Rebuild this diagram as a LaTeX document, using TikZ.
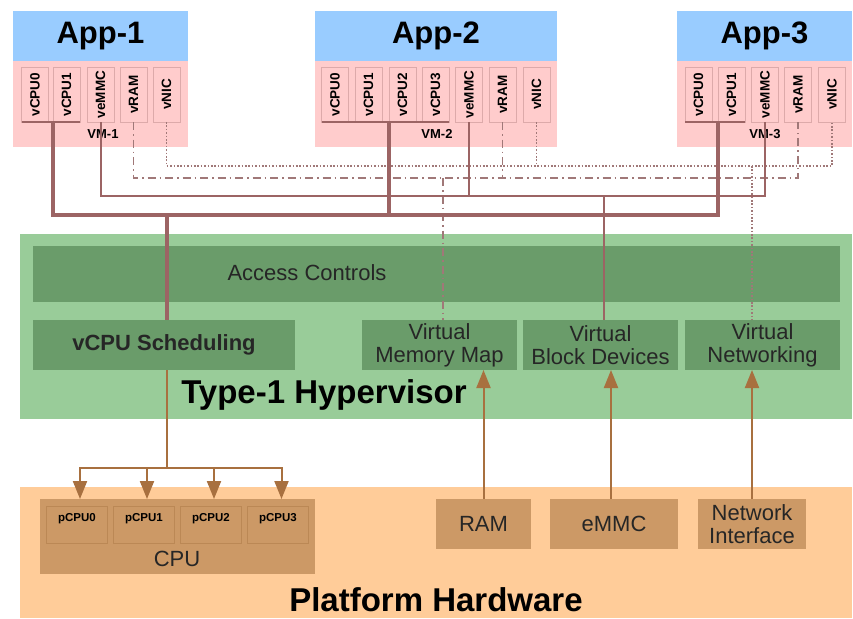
\documentclass[tikz,border=0pt]{standalone}
\usepackage{fontspec}
\setmainfont{Liberation Sans}
\usetikzlibrary{arrows.meta,calc}
\definecolor{appblue}{HTML}{99CCFF}
\definecolor{vmpink}{HTML}{FFCCCC}
\definecolor{vmedge}{HTML}{DDAAAA}
\definecolor{hypgreen}{HTML}{99CC99}
\definecolor{dkgreen}{HTML}{6A9C6A}
\definecolor{peach}{HTML}{FFCC99}
\definecolor{brownbox}{HTML}{CC9966}
\definecolor{brownedge}{HTML}{BB8855}
\definecolor{arrc}{HTML}{A8703F}
\definecolor{busc}{HTML}{9C6464}
\definecolor{busc2}{HTML}{A07878}
\begin{document}
\begin{tikzpicture}[x=1pt,y=-1pt,
  box/.style={rectangle, inner sep=0pt, outer sep=0pt},
  appbox/.style={box, fill=appblue, minimum height=50pt, font=\fontsize{31}{31}\selectfont\bfseries},
  vmbox/.style={box, fill=vmpink, minimum height=86pt},
  vres/.style={box, fill=vmpink, draw=vmedge, line width=0.6pt, minimum width=27pt, minimum height=55pt, font=\fontsize{13.5}{13.5}\selectfont\bfseries},
  vmlabel/.style={font=\fontsize{13}{13}\selectfont\bfseries},
  hvbox/.style={box, fill=dkgreen, minimum height=50pt, align=center, font=\fontsize{22}{23}\selectfont, text=black!85},
  hwbox/.style={box, fill=brownbox, minimum height=50pt, align=center, font=\fontsize{22}{23}\selectfont, text=black!85},
  pcpu/.style={box, fill=brownbox, draw=brownedge, line width=0.6pt, minimum width=61pt, minimum height=37pt},
  pcpulabel/.style={font=\fontsize{11.5}{11.5}\selectfont\bfseries},
  bigtitle/.style={font=\fontsize{33}{33}\selectfont\bfseries},
  cpubus/.style={draw=busc, line width=4pt},
  mmcbus/.style={draw=busc, line width=2pt},
  rambus/.style={draw=busc2, line width=1.5pt, dash pattern=on 8pt off 4pt on 1.5pt off 4pt},
  nicbus/.style={draw=busc2, line width=1.6pt, dash pattern=on 1.6pt off 1.8pt},
  hwline/.style={draw=arrc, line width=2pt},
  hwarrow/.style={hwline, -{Triangle[length=18pt,width=14pt]}}
]
\fill[white] (0,0) rectangle (853,618);
\useasboundingbox (0,0) rectangle (853,618);

% ---------- Apps / VMs ----------
\node[appbox, minimum width=175pt] (app1) at (100.5,36) {App-1};
\node[vmbox, minimum width=175pt] (vm1) at (100.5,104) {};
\node[appbox, minimum width=242pt] (app2) at (436,36) {App-2};
\node[vmbox, minimum width=242pt] (vm2) at (436,104) {};
\node[appbox, minimum width=175pt] (app3) at (764.5,36) {App-3};
\node[vmbox, minimum width=175pt] (vm3) at (764.5,104) {};

\node[vres] (v1c0) at (35,94.5) {\rotatebox{90}{vCPU0}};
\node[vres] (v1c1) at (66.5,94.5) {\rotatebox{90}{vCPU1}};
\node[vres] (v1m) at (100.5,94.5) {\rotatebox{90}{veMMC}};
\node[vres] (v1r) at (133.5,94.5) {\rotatebox{90}{vRAM}};
\node[vres] (v1n) at (166.5,94.5) {\rotatebox{90}{vNIC}};
\node[vmlabel] (vm1t) at (103,134) {VM-1};

\node[vres] (v2c0) at (335,94.5) {\rotatebox{90}{vCPU0}};
\node[vres] (v2c1) at (368.5,94.5) {\rotatebox{90}{vCPU1}};
\node[vres] (v2c2) at (402.5,94.5) {\rotatebox{90}{vCPU2}};
\node[vres] (v2c3) at (435.5,94.5) {\rotatebox{90}{vCPU3}};
\node[vres] (v2m) at (469,94.5) {\rotatebox{90}{veMMC}};
\node[vres] (v2r) at (502.5,94.5) {\rotatebox{90}{vRAM}};
\node[vres] (v2n) at (536.5,94.5) {\rotatebox{90}{vNIC}};
\node[vmlabel] (vm2t) at (437,134) {VM-2};

\node[vres] (v3c0) at (698.5,94.5) {\rotatebox{90}{vCPU0}};
\node[vres] (v3c1) at (731.5,94.5) {\rotatebox{90}{vCPU1}};
\node[vres] (v3m) at (765,94.5) {\rotatebox{90}{veMMC}};
\node[vres] (v3r) at (798,94.5) {\rotatebox{90}{vRAM}};
\node[vres] (v3n) at (832,94.5) {\rotatebox{90}{vNIC}};
\node[vmlabel] (vm3t) at (765,134) {VM-3};

% ---------- Hypervisor ----------
\node[box, fill=hypgreen, minimum width=832pt, minimum height=185pt] (hyp) at (436,326.5) {};
\node[hvbox, minimum width=807pt, minimum height=56pt] (acc) at (436.5,274) {};
\node[font=\fontsize{22}{22}\selectfont, text=black!85] (acct) at (307,273) {Access Controls};
\node[hvbox, minimum width=262pt, font=\fontsize{22}{22}\selectfont\bfseries] (sched) at (164,345) {vCPU Scheduling};
\node[hvbox, minimum width=155pt] (vmem) at (439.5,345) {Virtual\\Memory Map};
\node[hvbox, minimum width=155pt] (vblk) at (600.5,345) {Virtual\\Block Devices};
\node[hvbox, minimum width=155pt] (vnet) at (762.5,345) {Virtual\\Networking};
\node[bigtitle] (hyptext) at (324,395) {Type-1 Hypervisor};

% ---------- Platform hardware ----------
\node[box, fill=peach, minimum width=832pt, minimum height=131pt] (plat) at (436,552.5) {};
\node[box, fill=brownbox, minimum width=275pt, minimum height=75pt] (cpu) at (177.5,536.5) {};
\node[pcpu] (p0) at (76.5,524.5) {};
\node[pcpu] (p1) at (144,524.5) {};
\node[pcpu] (p2) at (211,524.5) {};
\node[pcpu] (p3) at (278,524.5) {};
\node[pcpulabel] (p0t) at (77,518.5) {pCPU0};
\node[pcpulabel] (p1t) at (144,518.5) {pCPU1};
\node[pcpulabel] (p2t) at (211,518.5) {pCPU2};
\node[pcpulabel] (p3t) at (278,518.5) {pCPU3};
\node[font=\fontsize{22}{22}\selectfont, text=black!85] (cput) at (177,559) {CPU};
\node[hwbox, minimum width=95pt] (ram) at (483.5,524) {RAM};
\node[hwbox, minimum width=128pt] (emmc) at (614,524) {eMMC};
\node[hwbox, minimum width=108pt] (nic) at (752,524) {Network\\Interface};
\node[bigtitle] (plattext) at (436,600) {Platform Hardware};

% ---------- Junctions ----------
\coordinate (cpuJ) at (167,215);
\coordinate (mmcJ) at (604,196);
\coordinate (ramJ) at (443,178);
\coordinate (nicJ) at (752,166);
\coordinate (br) at (167,468);
\coordinate (a0) at ([xshift=3.5pt]p0.north |- cpu.north);
\coordinate (a1) at ([xshift=3pt]p1.north |- cpu.north);
\coordinate (a2) at ([xshift=3pt]p2.north |- cpu.north);
\coordinate (a3) at ([xshift=3.5pt]p3.north |- cpu.north);

% ---------- vNIC (dotted) ----------
\draw[nicbus] (v1n.south) |- (v3n.south |- nicJ) -- (v3n.south);
\draw[nicbus] (v2n.south) -- (v2n.south |- nicJ);
\draw[nicbus] (nicJ) -- (vnet.north -| nicJ);

% ---------- vRAM (dash-dot) ----------
\draw[rambus] (v1r.south) |- (v3r.south |- ramJ) -- (v3r.south);
\draw[rambus] (v2r.south) -- (v2r.south |- ramJ);
\draw[rambus] (ramJ) -- (vmem.north -| ramJ);

% ---------- veMMC ----------
\draw[mmcbus] (v1m.south) |- (v3m.south |- mmcJ) -- (v3m.south);
\draw[mmcbus] (v2m.south) -- (v2m.south |- mmcJ);
\draw[mmcbus] (mmcJ) -- (vblk.north -| mmcJ);

% ---------- vCPU ----------
\draw[cpubus, line width=2.5pt] (v1c0.south west) -- (v1c1.south east);
\draw[cpubus, line width=2.5pt] (v2c0.south west) -- (v2c3.south east);
\draw[cpubus, line width=2.5pt] (v3c0.south west) -- (v3c1.south east);
\draw[cpubus] (v1c1.south west) |- (v3c1.south west |- cpuJ) -- (v3c1.south west);
\draw[cpubus] (v2c2.south west) -- (v2c2.south west |- cpuJ);
\draw[cpubus] (cpuJ) -- (sched.north -| cpuJ);

% ---------- vCPU scheduling to pCPUs ----------
\draw[hwline] (sched.south -| br) -- (br);
\draw[hwarrow] (br) -| (a0);
\draw[hwarrow] (br) -| (a3);
\draw[hwarrow] (br -| a1) -- (a1);
\draw[hwarrow] (br -| a2) -- (a2);

% ---------- hardware to hypervisor ----------
\draw[hwarrow] (ram.north) -- (ram.north |- vmem.south);
\draw[hwarrow] ([xshift=-3pt]emmc.north) -- ([xshift=-3pt]emmc.north |- vblk.south);
\draw[hwarrow] (nic.north) -- (nic.north |- vnet.south);
\end{tikzpicture}
\end{document}
